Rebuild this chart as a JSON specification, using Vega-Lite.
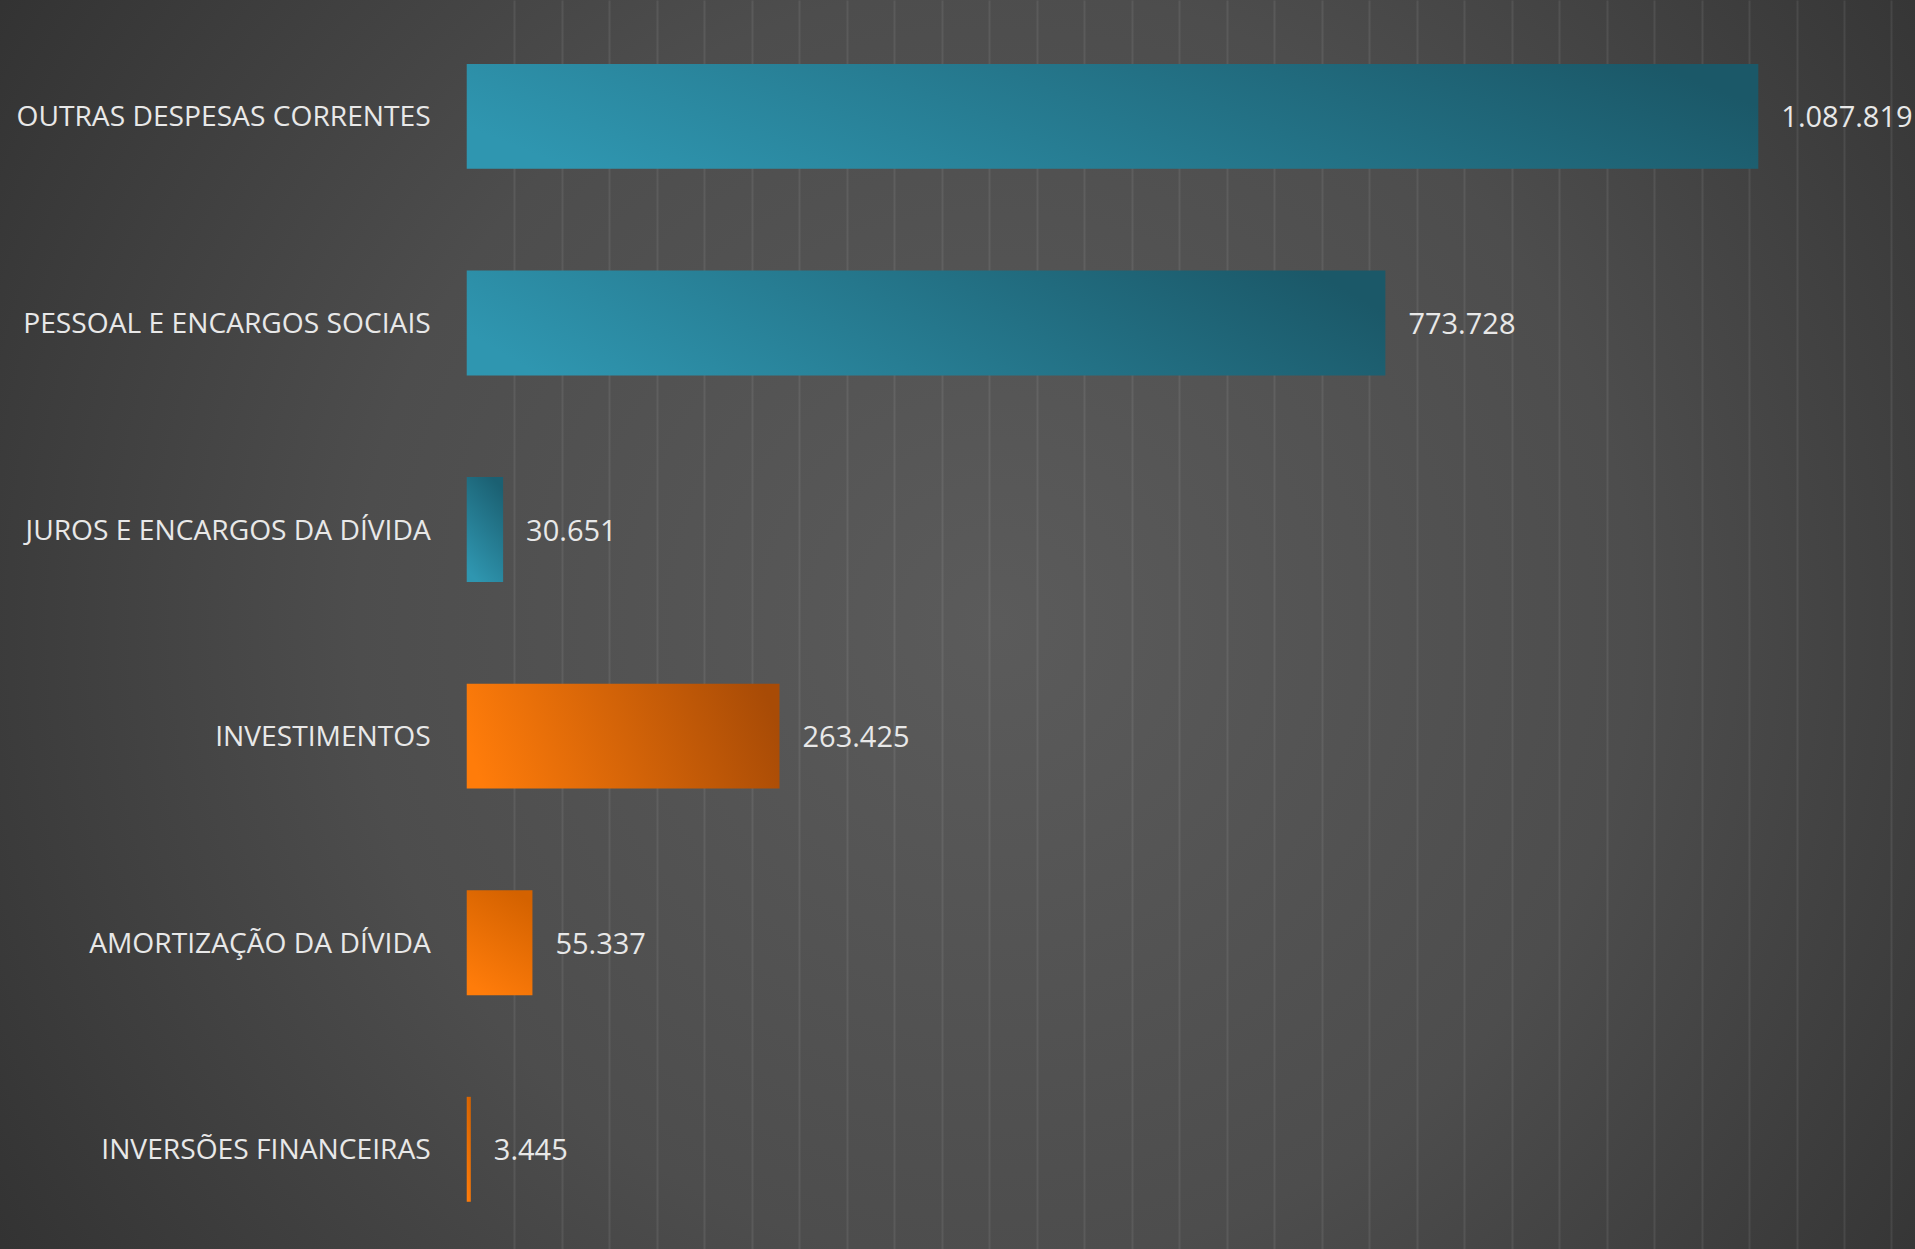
{
  "$schema": "https://vega.github.io/schema/vega-lite/v6.json",
  "width": 1915,
  "height": 1249,
  "autosize": {"type": "fit", "contains": "padding"},
  "padding": 0,
  "background": "#2e2e2e",
  "config": {
    "locale": {"number": {"decimal": ",", "thousands": ".", "grouping": [3], "currency": ["R$", ""]}},
    "view": {
      "stroke": null,
      "fill": {
        "gradient": "radial",
        "x1": 0.52, "y1": 0.5, "r1": 0,
        "x2": 0.52, "y2": 0.5, "r2": 0.74,
        "stops": [
          {"offset": 0, "color": "#5b5b5b"},
          {"offset": 0.45, "color": "#4d4d4d"},
          {"offset": 1, "color": "#272727"}
        ]
      }
    }
  },
  "data": {
    "values": [
      {"categoria": "OUTRAS DESPESAS CORRENTES", "valor": 1087819, "grupo": "corrente"},
      {"categoria": "PESSOAL E ENCARGOS SOCIAIS", "valor": 773728, "grupo": "corrente"},
      {"categoria": "JUROS E ENCARGOS DA DÍVIDA", "valor": 30651, "grupo": "corrente"},
      {"categoria": "INVESTIMENTOS", "valor": 263425, "grupo": "capital"},
      {"categoria": "AMORTIZAÇÃO DA DÍVIDA", "valor": 55337, "grupo": "capital"},
      {"categoria": "INVERSÕES FINANCEIRAS", "valor": 3445, "grupo": "capital"}
    ]
  },
  "encoding": {
    "y": {
      "field": "categoria",
      "type": "nominal",
      "sort": ["OUTRAS DESPESAS CORRENTES", "PESSOAL E ENCARGOS SOCIAIS", "JUROS E ENCARGOS DA DÍVIDA", "INVESTIMENTOS", "AMORTIZAÇÃO DA DÍVIDA", "INVERSÕES FINANCEIRAS"],
      "scale": {"paddingInner": 0.492, "paddingOuter": 0.269, "align": 0.575},
      "axis": null
    }
  },
  "layer": [
    {
      "mark": {"type": "bar", "opacity": 0},
      "encoding": {
        "x": {
          "field": "valor",
          "type": "quantitative",
          "scale": {"domain": [-393100, 1219800], "nice": false, "zero": false},
          "axis": {
            "values": [40000, 80000, 120000, 160000, 200000, 240000, 280000, 320000, 360000, 400000, 440000, 480000, 520000, 560000, 600000, 640000, 680000, 720000, 760000, 800000, 840000, 880000, 920000, 960000, 1000000, 1040000, 1080000, 1120000, 1160000, 1200000],
            "grid": true,
            "gridColor": "#ffffff",
            "gridOpacity": 0.08,
            "gridWidth": 2,
            "labels": false,
            "ticks": false,
            "domain": false,
            "title": null
          }
        }
      }
    },
    {
      "mark": {"type": "rule", "color": "#a8a8a8", "strokeWidth": 2},
      "encoding": {
        "x": {"datum": 0, "type": "quantitative", "scale": {"domain": [-393100, 1219800], "nice": false, "zero": false}}
      }
    },
    {
      "transform": [{"filter": "datum.grupo == 'corrente' && datum.valor >= 100000"}],
      "mark": {
        "type": "bar",
        "fill": {
          "gradient": "linear", "x1": 0, "y1": 0.6, "x2": 1, "y2": 0.4,
          "stops": [{"offset": 0, "color": "#2f96b0"}, {"offset": 1, "color": "#1b5868"}]
        }
      },
      "encoding": {
        "x": {"field": "valor", "type": "quantitative", "scale": {"domain": [-393100, 1219800], "nice": false, "zero": false}},
        "x2": {"datum": 0}
      }
    },
    {
      "transform": [{"filter": "datum.grupo == 'corrente' && datum.valor < 100000"}],
      "mark": {
        "type": "bar",
        "fill": {
          "gradient": "linear", "x1": 0.3, "y1": 1, "x2": 0.7, "y2": 0,
          "stops": [{"offset": 0, "color": "#2f96b0"}, {"offset": 1, "color": "#1b6072"}]
        }
      },
      "encoding": {
        "x": {"field": "valor", "type": "quantitative", "scale": {"domain": [-393100, 1219800], "nice": false, "zero": false}},
        "x2": {"datum": 0}
      }
    },
    {
      "transform": [{"filter": "datum.grupo == 'capital' && datum.valor >= 100000"}],
      "mark": {
        "type": "bar",
        "fill": {
          "gradient": "linear", "x1": 0, "y1": 0.56, "x2": 1, "y2": 0.44,
          "stops": [{"offset": 0, "color": "#ff7c0a"}, {"offset": 1, "color": "#a84b06"}]
        }
      },
      "encoding": {
        "x": {"field": "valor", "type": "quantitative", "scale": {"domain": [-393100, 1219800], "nice": false, "zero": false}},
        "x2": {"datum": 0}
      }
    },
    {
      "transform": [{"filter": "datum.grupo == 'capital' && datum.valor < 100000"}],
      "mark": {
        "type": "bar",
        "fill": {
          "gradient": "linear", "x1": 0.3, "y1": 1, "x2": 0.7, "y2": 0,
          "stops": [{"offset": 0, "color": "#ff7c0a"}, {"offset": 1, "color": "#d46200"}]
        }
      },
      "encoding": {
        "x": {"field": "valor", "type": "quantitative", "scale": {"domain": [-393100, 1219800], "nice": false, "zero": false}},
        "x2": {"datum": 0}
      }
    },
    {
      "mark": {"type": "text", "align": "right", "baseline": "middle", "dx": -36, "dy": 2, "font": "Open Sans", "fontSize": 28.2, "color": "#e8e8e8"},
      "encoding": {
        "x": {"datum": 0, "type": "quantitative", "scale": {"domain": [-393100, 1219800], "nice": false, "zero": false}},
        "text": {"field": "categoria", "type": "nominal"}
      }
    },
    {
      "mark": {"type": "text", "align": "left", "baseline": "middle", "dx": 23, "dy": 2, "font": "Open Sans", "fontSize": 29, "color": "#e8e8e8"},
      "encoding": {
        "x": {"field": "valor", "type": "quantitative", "scale": {"domain": [-393100, 1219800], "nice": false, "zero": false}},
        "text": {"field": "valor", "type": "quantitative", "format": ",d"}
      }
    }
  ]
}
